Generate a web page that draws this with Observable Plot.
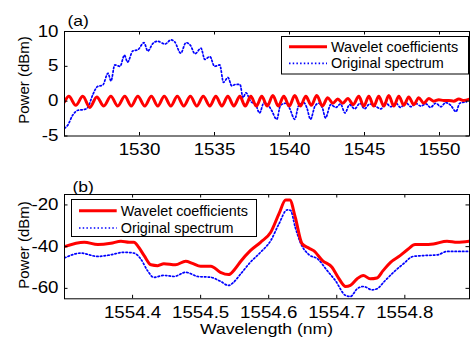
<!DOCTYPE html>
<html><head><meta charset="utf-8">
<script src="https://cdn.jsdelivr.net/npm/d3@7"></script>
<script src="https://cdn.jsdelivr.net/npm/@observablehq/plot@0.6"></script>
<style>
body{margin:0;background:#fff;font-family:"Liberation Sans",Arial,sans-serif;}
#wrap{position:relative;width:470px;height:340px;overflow:hidden;}
#wrap svg{display:block;}
#legend{position:absolute;left:0;top:0;}
</style></head><body><div id="wrap"></div>
<script>
// ---- panel (a) ----
const xTicksA = [1530, 1535, 1540, 1545, 1550];
const yTicksA = [-5, 0, 5, 10];
const waveletA_x = [1525.0,1525.29,1525.75,1526.22,1526.69,1527.15,1527.62,1528.09,1528.55,1529.02,1529.45,1529.89,1530.35,1530.79,1531.22,1531.65,1532.09,1532.52,1532.95,1533.39,1533.82,1534.25,1534.69,1535.09,1535.49,1535.89,1536.29,1536.69,1537.05,1537.42,1537.79,1538.15,1538.52,1538.89,1539.25,1539.62,1539.99,1540.35,1540.72,1541.09,1541.45,1541.82,1542.19,1542.55,1542.89,1543.22,1543.55,1543.89,1544.25,1544.62,1544.95,1545.29,1545.62,1545.95,1546.29,1546.62,1546.95,1547.29,1547.62,1547.95,1548.29,1548.62,1548.95,1549.29,1549.62,1549.95,1550.29,1550.62,1550.95,1551.29,1551.62,1552.0];
const waveletA_y = [-0.1,0.7,-0.6,0.7,-0.9,0.6,-0.7,0.7,-0.7,0.7,-0.7,0.7,-0.7,0.7,-0.7,0.7,-0.7,0.7,-0.7,0.7,-0.7,0.7,-0.7,0.7,-0.7,0.7,-0.7,0.7,-0.7,0.7,-0.7,0.7,-0.7,0.8,-0.7,0.7,-0.7,0.8,-0.7,0.7,-0.6,0.8,-0.7,0.5,-0.3,0.3,-0.3,0.4,-0.5,0.7,-0.7,0.7,-0.7,0.7,-0.7,0.8,-0.7,0.7,-0.6,0.6,-0.5,0.5,-0.3,0.4,0.0,0.2,0.1,0.1,0.0,0.3,0.1,0.3];
const spectrumA_x = [1525.0,1525.2,1525.55,1525.9,1526.3,1526.55,1526.9,1527.2,1527.55,1527.9,1528.1,1528.35,1528.7,1529.0,1529.2,1529.55,1529.9,1530.3,1530.55,1530.9,1531.2,1531.7,1532.1,1532.35,1532.75,1533.1,1533.4,1533.7,1534.1,1534.35,1534.7,1535.0,1535.35,1535.6,1535.9,1536.15,1536.4,1536.7,1536.9,1537.1,1537.4,1537.75,1538.0,1538.3,1538.55,1538.8,1539.15,1539.4,1539.75,1540.0,1540.35,1540.6,1540.95,1541.15,1541.4,1541.7,1541.95,1542.2,1542.4,1542.75,1543.1,1543.4,1543.7,1544.0,1544.35,1544.7,1545.0,1545.35,1545.7,1546.1,1546.4,1546.75,1547.1,1547.4,1547.75,1548.1,1548.4,1548.75,1549.1,1549.4,1549.75,1550.1,1550.4,1550.75,1551.1,1551.35,1551.8];
const spectrumA_y = [-3.9,-3.5,-2.0,-1.3,-1.2,-0.9,1.0,2.1,2.3,4.0,2.9,5.2,5.0,6.6,5.6,7.2,7.4,8.4,7.2,8.3,8.6,8.2,8.8,8.5,6.9,8.4,8.0,6.8,7.6,6.0,6.4,5.0,5.2,2.7,3.4,2.2,2.4,2.4,0.5,1.2,0.0,-0.5,-1.7,-0.2,-0.5,-1.3,-2.6,-0.6,-0.3,-1.0,-2.6,-0.7,-0.2,-0.9,-2.6,-0.7,-0.3,-1.0,-2.4,-0.5,-0.9,-0.4,-1.7,-0.5,-1.1,-0.3,-1.1,-0.4,-0.7,-1.1,-0.2,-0.8,-0.3,-0.9,-0.2,-0.8,-0.3,-0.7,-0.4,-0.9,-0.3,-0.8,-0.2,-0.6,-1.5,-0.3,-0.1];

// ---- panel (b) ----
const xTicksB = [1554.4, 1554.5, 1554.6, 1554.7, 1554.8];
const yTicksB = [-60, -40, -20];
const waveletB_x = [1554.300,1554.329,1554.349,1554.368,1554.383,1554.395,1554.402,1554.409,1554.417,1554.427,1554.437,1554.446,1554.463,1554.478,1554.488,1554.500,1554.515,1554.529,1554.541,1554.551,1554.559,1554.573,1554.588,1554.603,1554.615,1554.625,1554.631,1554.639,1554.649,1554.659,1554.666,1554.679,1554.693,1554.702,1554.713,1554.720,1554.730,1554.739,1554.749,1554.759,1554.768,1554.779,1554.793,1554.805,1554.815,1554.827,1554.842,1554.862,1554.877,1554.895];
const waveletB_y = [-40.0,-37.9,-39.0,-38.4,-37.4,-37.9,-37.9,-40.3,-44.3,-48.7,-49.1,-48.2,-48.7,-47.0,-48.0,-49.4,-49.4,-52.3,-53.4,-50.5,-47.0,-41.9,-37.9,-33.1,-24.3,-17.6,-17.6,-25.9,-38.6,-40.7,-41.9,-46.7,-49.9,-54.7,-59.1,-58.6,-55.4,-53.8,-55.4,-55.0,-51.5,-47.5,-44.3,-41.1,-39.0,-39.0,-38.7,-37.4,-37.9,-37.4];
const spectrumB_x = [1554.300,1554.324,1554.349,1554.368,1554.387,1554.402,1554.412,1554.422,1554.431,1554.446,1554.461,1554.478,1554.496,1554.515,1554.529,1554.541,1554.547,1554.559,1554.573,1554.588,1554.603,1554.615,1554.627,1554.632,1554.639,1554.647,1554.659,1554.672,1554.686,1554.698,1554.713,1554.720,1554.730,1554.739,1554.752,1554.759,1554.771,1554.786,1554.798,1554.812,1554.827,1554.848,1554.862,1554.895];
const spectrumB_y = [-45.4,-43.1,-44.7,-43.9,-42.7,-43.1,-45.9,-51.5,-54.7,-53.8,-54.3,-52.3,-54.3,-54.7,-56.6,-58.6,-57.5,-53.0,-47.5,-42.7,-37.1,-29.1,-22.4,-22.6,-30.7,-38.4,-43.8,-45.9,-51.5,-56.3,-63.4,-63.9,-60.2,-59.1,-60.7,-60.2,-56.3,-51.5,-48.2,-44.7,-44.3,-43.9,-42.3,-42.3];

const seriesNames = ["Wavelet coefficients", "Original spectrum"];
const panelTags = ["(a)", "(b)"];
const yLabel = "Power (dBm)";
const xLabel = "Wavelength (nm)";

const RED = "#ff0000", BLUE = "#0000ff";
const W = 470, ML = 64, MR = 1;

function zip(xs, ys){ return xs.map((x,i)=>({x, y: ys[i]})); }

function panel(o){
  const ph = o.height - o.mt - o.mb, pw = W - ML - MR, tk = 3.5;
  const marks = [
    Plot.line(zip(o.sx, o.sy), {x:"x", y:"y", stroke:BLUE, strokeWidth:1.7, strokeDasharray:"1.5,2.2", curve:"monotone-x", clip:true}),
    Plot.line(zip(o.wx, o.wy), {x:"x", y:"y", stroke:RED, strokeWidth:3, curve:"monotone-x", clip:true}),
    Plot.frame({stroke:"black", strokeWidth:1}),
    Plot.tickX(o.xTicks, {x:d=>d, insetTop: ph - tk, stroke:"black"}),
    Plot.tickX(o.xTicks, {x:d=>d, insetBottom: ph - tk, stroke:"black"}),
    Plot.tickY(o.yTicks, {y:d=>d, insetRight: pw - tk, stroke:"black"}),
    Plot.tickY(o.yTicks, {y:d=>d, insetLeft: pw - tk, stroke:"black"}),
    Plot.axisX({ticks:o.xTicks, tickSize:0, tickPadding:8, tickFormat:o.fmt, label:null, fontSize:16}),
    Plot.axisY({ticks:o.yTicks, tickSize:0, tickPadding:6, tickFormat:d=>String(d), label:null, fontSize:16}),
    Plot.text([o.tag], {frameAnchor:"top-left", dx:o.tagDx, dy:o.tagDy, textAnchor:"start", fontSize:15})
  ];
  return Plot.plot({
    width:W, height:o.height, marginLeft:ML, marginRight:MR, marginTop:o.mt, marginBottom:o.mb,
    style:{fontFamily:"'Liberation Sans', Arial, sans-serif", fontSize:"16px", background:"white", color:"black", overflow:"visible"},
    x:{domain:o.xDomain}, y:{domain:o.yDomain},
    marks
  });
}

const wrap = document.getElementById("wrap");
const panelTop = panel({height:170, mt:31, mb:34.5, xDomain:[1525,1552], yDomain:[-5,10],
  xTicks:xTicksA, yTicks:yTicksA, fmt:d=>String(d), tag:panelTags[0], tagDx:3, tagDy:-16,
  wx:waveletA_x, wy:waveletA_y, sx:spectrumA_x, sy:spectrumA_y});
const panelBot = panel({height:170, mt:24, mb:41.7, xDomain:[1554.3,1554.895], yDomain:[-65,-15],
  xTicks:xTicksB, yTicks:yTicksB, fmt:d=>d.toFixed(1), tag:panelTags[1], tagDx:8, tagDy:-13,
  wx:waveletB_x, wy:waveletB_y, sx:spectrumB_x, sy:spectrumB_y});
wrap.appendChild(panelTop);
wrap.appendChild(panelBot);

// horizontal stretch of text (the original figure is slightly widened)
function stretch(root, f){
  root.querySelectorAll("text.stretch, svg > g text").forEach(t=>{
    if (t.textContent === yLabel) return;
    const w = t.getComputedTextLength();
    t.setAttribute("textLength", (w*f).toFixed(2));
    t.setAttribute("lengthAdjust","spacingAndGlyphs");
  });
}
stretch(panelTop, 1.17); stretch(panelBot, 1.17);

// legends and axis titles (overlay)
function legendSVG(bx, by, bw, bh, lx1, lx2, y1, y2){
  return `<rect x="${bx}" y="${by}" width="${bw}" height="${bh}" fill="white" stroke="black" stroke-width="1"/>
  <line x1="${lx1}" x2="${lx2}" y1="${y1}" y2="${y1}" stroke="${RED}" stroke-width="3"/>
  <line x1="${lx1}" x2="${lx2}" y1="${y2}" y2="${y2}" stroke="${BLUE}" stroke-width="1.7" stroke-dasharray="1.5,2.2"/>
  <text x="${lx2+4}" y="${y1}" dy="0.36em" font-size="14.4">${seriesNames[0]}</text>
  <text x="${lx2+4}" y="${y2}" dy="0.36em" font-size="14.4">${seriesNames[1]}</text>`;
}
const leg = document.createElementNS("http://www.w3.org/2000/svg","svg");
leg.setAttribute("id","legend"); leg.setAttribute("width",W); leg.setAttribute("height",340);
leg.setAttribute("font-family","'Liberation Sans', Arial, sans-serif");
leg.innerHTML = legendSVG(281.5, 36.5, 187, 37.5, 289, 327, 46.7, 63.3) +
                legendSVG(71.5, 199.5, 185, 37, 79, 116.7, 210.7, 228) +
  `<text transform="translate(24,80) rotate(-90)" text-anchor="middle" dy="0.36em" font-size="15">${yLabel}</text>
   <text transform="translate(24,245) rotate(-90)" text-anchor="middle" dy="0.36em" font-size="15">${yLabel}</text>
   <text class="stretch" x="266.5" y="329" text-anchor="middle" dy="0.36em" font-size="15">${xLabel}</text>`;
wrap.appendChild(leg);
leg.querySelectorAll("text.stretch").forEach(t=>{
  const w = t.getComputedTextLength();
  t.setAttribute("textLength", (w*1.17).toFixed(2));
  t.setAttribute("lengthAdjust","spacingAndGlyphs");
});
</script></body></html>
